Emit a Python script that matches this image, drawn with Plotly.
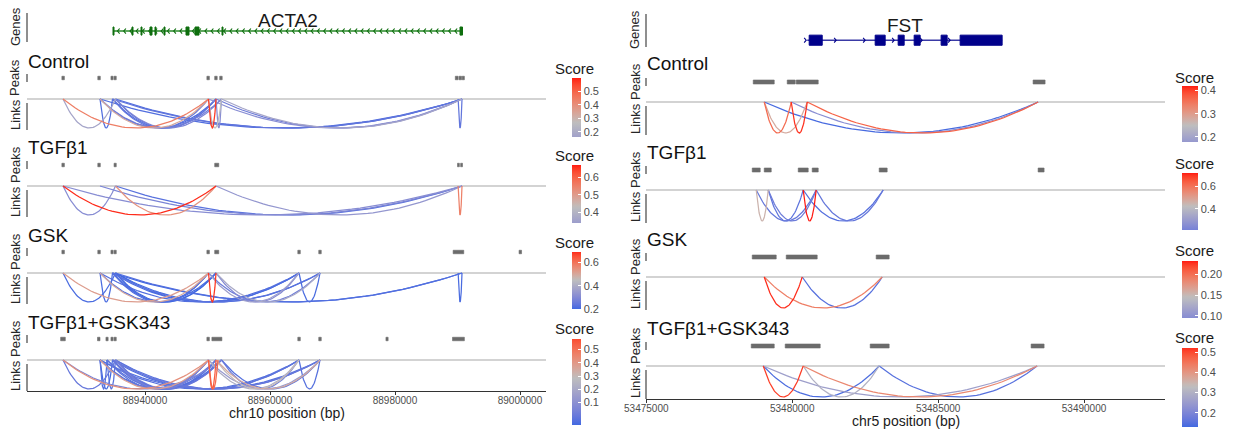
import numpy as np
import plotly.graph_objects as go

W, H = 1240, 444
FONT = "Liberation Sans, Arial, sans-serif"

conditions = ["Control", "TGFβ1", "GSK", "TGFβ1+GSK343"]

# ---------------- LEFT: ACTA2, chr10 ----------------
acta2_gene = [88934880, 88990800]
acta2_exon_start = [88934880, 88937920, 88939360, 88940800, 88941600, 88943040, 88946560, 88948000, 88952320, 88990400]
acta2_exon_end = [88935040, 88938080, 88939520, 88941120, 88941760, 88943200, 88947040, 88948640, 88952480, 88990800]
left_ticks = [88940000, 88960000, 88980000, 89000000]

left_peak_start = [
    [88926700, 88932450, 88934550, 88935050, 88949900, 88951150, 88951950, 88989650, 88990250, 88990750],
    [88926700, 88932450, 88935050, 88951150, 88990000, 88990500],
    [88926700, 88932450, 88934550, 88935050, 88949900, 88951150, 88964450, 88967800, 88989300, 88999850],
    [88926500, 88932400, 88933750, 88934550, 88935050, 88949900, 88950700, 88964450, 88967800, 88978550, 88989200],
]
left_peak_end = [
    [88927100, 88932850, 88934900, 88935400, 88950300, 88951550, 88952350, 88990100, 88990650, 88991100],
    [88927100, 88932850, 88935400, 88951800, 88990300, 88990800],
    [88927100, 88932850, 88934900, 88935400, 88950300, 88951800, 88964850, 88968200, 88991000, 89000250],
    [88927250, 88932800, 88934100, 88934900, 88935400, 88950300, 88952300, 88964850, 88968200, 88978900, 88991100],
]

left_link_start = [
    [88926880, 88926880, 88932800, 88932800, 88932800, 88932800, 88934800, 88934800, 88935280, 88935280,
     88932800, 88934800, 88935280, 88950160, 88950160, 88951360, 88950160, 88951360, 88952240, 88990100],
    [88926880, 88926880, 88935280, 88926880, 88932800, 88935280, 88951360, 88990100],
    [88926880, 88926880, 88932800, 88932800, 88932800, 88934800, 88934800, 88935280, 88935280, 88932800,
     88934800, 88935280, 88935280, 88934800, 88950160, 88950160, 88951360, 88951360, 88950160, 88964640,
     88934800, 88935280, 88990100],
    [88926880, 88926880, 88926880, 88932800, 88933920, 88932800, 88932800, 88932800, 88932800, 88933920,
     88933920, 88934800, 88934800, 88934800, 88935280, 88935280, 88935280, 88932800, 88934800, 88935280,
     88932800, 88934800, 88935280, 88950160, 88950160, 88950160, 88951360, 88951360, 88952240, 88952240,
     88950160, 88964640],
]
left_link_end = [
    [88935280, 88950160, 88934800, 88950160, 88951360, 88952240, 88950160, 88951360, 88951360, 88952240,
     88990720, 88990720, 88990720, 88951360, 88952240, 88952240, 88990720, 88990720, 88990720, 88990720],
    [88935280, 88951360, 88951360, 88990720, 88990720, 88990720, 88990720, 88990720],
    [88935280, 88950160, 88934800, 88950160, 88951360, 88950160, 88951360, 88950160, 88951360, 88964640,
     88964640, 88964640, 88968000, 88968000, 88951360, 88964640, 88964640, 88968000, 88968000, 88968000,
     88990720, 88990720, 88990720],
    [88935280, 88950160, 88952240, 88933920, 88935280, 88934800, 88950160, 88951360, 88952240, 88950160,
     88952240, 88950160, 88951360, 88952240, 88950160, 88951360, 88952240, 88964640, 88964640, 88964640,
     88968000, 88968000, 88968000, 88951360, 88951680, 88964640, 88964640, 88968000, 88964640, 88968000,
     88968000, 88968000],
]
left_link_score = [
    [0.24, 0.44, 0.17, 0.33, 0.17, 0.19, 0.18, 0.17, 0.18, 0.20, 0.17, 0.18, 0.17, 0.57, 0.27, 0.21, 0.21, 0.19, 0.24, 0.18],
    [0.38, 0.66, 0.52, 0.38, 0.37, 0.35, 0.39, 0.55],
    [0.21, 0.52, 0.21, 0.50, 0.21, 0.22, 0.20, 0.21, 0.20, 0.22, 0.21, 0.20, 0.20, 0.23, 0.68, 0.36, 0.30, 0.39, 0.26, 0.21,
     0.20, 0.22, 0.21],
    [0.12, 0.42, 0.15, 0.10, 0.10, 0.08, 0.38, 0.12, 0.09, 0.11, 0.10, 0.12, 0.10, 0.11, 0.14, 0.10, 0.12, 0.10, 0.09, 0.11,
     0.10, 0.12, 0.10, 0.55, 0.52, 0.25, 0.30, 0.35, 0.12, 0.10, 0.20, 0.10],
]
left_cbar_lo = [0.1625, 0.34, 0.2, -0.07]
left_cbar_mid = [0.27, 0.43, 0.45, 0.285]
left_cbar_hi = [0.6, 0.67, 0.69, 0.58]
left_cbar_ticks = [[0.2, 0.3, 0.4, 0.5], [0.4, 0.5, 0.6], [0.2, 0.4, 0.6], [0.1, 0.2, 0.3, 0.4, 0.5]]

# ---------------- RIGHT: FST, chr5 ----------------
fst_gene = [53480514, 53487193]
fst_exon_start = [53480582, 53482843, 53483631, 53484179, 53485103, 53485754]
fst_exon_end = [53481028, 53483185, 53483836, 53484384, 53485309, 53487193]
fst_arrows = [53480480, 53481507, 53482500, 53483494, 53484453, 53485412]
right_ticks = [53475000, 53480000, 53485000, 53490000]

right_peak_start = [
    [53478664, 53479829, 53480137, 53488254],
    [53478630, 53479041, 53480206, 53480685, 53482980, 53488426],
    [53478630, 53479795, 53482877],
    [53478596, 53479760, 53482672, 53488186],
]
right_peak_end = [
    [53479384, 53480103, 53480891, 53488665],
    [53478904, 53479281, 53480548, 53480891, 53483254, 53488631],
    [53479452, 53480856, 53483322],
    [53479384, 53480959, 53483322, 53488631],
]
right_link_start = [
    [53479041, 53479041, 53479966, 53479041, 53479966, 53480514],
    [53478767, 53478767, 53479178, 53479178, 53480377, 53480377, 53480822],
    [53479041, 53479041, 53480343],
    [53479007, 53479007, 53479007, 53480377, 53480377, 53482980],
]
right_link_end = [
    [53479966, 53480514, 53480514, 53488426, 53488426, 53488426],
    [53479178, 53480822, 53480377, 53480822, 53480822, 53483117, 53483117],
    [53480343, 53483083, 53483083],
    [53480377, 53482980, 53488391, 53482980, 53488391, 53488391],
]
right_link_score = [
    [0.36, 0.28, 0.41, 0.18, 0.21, 0.37],
    [0.45, 0.25, 0.24, 0.26, 0.72, 0.23, 0.25],
    [0.228, 0.19, 0.10],
    [0.51, 0.14, 0.26, 0.30, 0.42, 0.15],
]
right_cbar_lo = [0.178, 0.21, 0.095, 0.13]
right_cbar_mid = [0.25, 0.42, 0.145, 0.33]
right_cbar_hi = [0.42, 0.72, 0.232, 0.52]
right_cbar_ticks = [[0.2, 0.3, 0.4], [0.4, 0.6], [0.10, 0.15, 0.20], [0.2, 0.3, 0.4, 0.5]]


# ---------------- colour helpers (Lab interpolation like ggplot) ----------------
def hex2rgb(h):
    h = h.lstrip('#')
    return [int(h[i:i + 2], 16) for i in (0, 2, 4)]


def rgb2lab(rgb):
    def lin(c):
        c = c / 255
        return c / 12.92 if c <= 0.04045 else ((c + 0.055) / 1.055) ** 2.4
    r, g, b = [lin(c) for c in rgb]
    X = 0.4124 * r + 0.3576 * g + 0.1805 * b
    Y = 0.2126 * r + 0.7152 * g + 0.0722 * b
    Z = 0.0193 * r + 0.1192 * g + 0.9505 * b

    def f(t):
        return t ** (1 / 3) if t > 0.008856 else 7.787 * t + 16 / 116
    fx, fy, fz = f(X / 0.95047), f(Y), f(Z / 1.08883)
    return [116 * fy - 16, 500 * (fx - fy), 200 * (fy - fz)]


def lab2hex(lab):
    L, a, b = lab
    fy = (L + 16) / 116
    fx = fy + a / 500
    fz = fy - b / 200

    def finv(t):
        return t ** 3 if t ** 3 > 0.008856 else (t - 16 / 116) / 7.787
    X, Y, Z = 0.95047 * finv(fx), finv(fy), 1.08883 * finv(fz)
    r = 3.2406 * X - 1.5372 * Y - 0.4986 * Z
    g = -0.9689 * X + 1.8758 * Y + 0.0415 * Z
    bb = 0.0557 * X - 0.2040 * Y + 1.0570 * Z

    def gam(c):
        c = 12.92 * c if c <= 0.0031308 else 1.055 * c ** (1 / 2.4) - 0.055
        return max(0, min(255, int(round(c * 255))))
    return '#%02x%02x%02x' % (gam(r), gam(g), gam(bb))


LOW = rgb2lab(hex2rgb('#4169E1'))
MID = rgb2lab(hex2rgb('#BEBEBE'))
HIGH = rgb2lab(hex2rgb('#FF1A12'))


def grad(t):
    t = min(1.0, max(0.0, t))
    if t >= 0.5:
        f, a, b = (t - 0.5) * 2, MID, HIGH
    else:
        f, a, b = (0.5 - t) * 2, MID, LOW
    return lab2hex([a[i] + (b[i] - a[i]) * f for i in range(3)])


def cbar_scale(lo, mid, hi):
    span = max(hi - mid, mid - lo)
    stops = []
    for p in np.linspace(0, 1, 25):
        v = lo + p * (hi - lo)
        stops.append([float(p), grad(0.5 + (v - mid) / (2 * span))])
    return stops


def line_color(v, lo, mid, hi):
    if v >= mid:
        span = max(hi - mid, mid - lo)
        return grad(0.5 + (v - mid) / (2 * span))
    return grad(0.5 - (mid - v) / (2 * (mid - max(lo, 0.08))))


# ---------------- figure construction ----------------
fig = go.Figure()
axes = {}
shapes = []
annotations = []
counter = [0]
AXCOL = '#333333'
LABCOL = '#262626'


def new_axes(xdom, ydom, xr, yr):
    counter[0] += 1
    n = counter[0]
    key = '' if n == 1 else str(n)
    axes['xaxis' + key] = dict(domain=[xdom[0] / W, xdom[1] / W], range=xr, visible=False,
                               anchor='y' + key, fixedrange=True, automargin=False)
    axes['yaxis' + key] = dict(domain=[1 - ydom[1] / H, 1 - ydom[0] / H], range=yr, visible=False,
                               anchor='x' + key, fixedrange=True, automargin=False)
    return 'x' + key, 'y' + key, 'xaxis' + key


def vline_px(x, y0, y1):
    shapes.append(dict(type='line', xref='paper', yref='paper', x0=x / W, x1=x / W,
                       y0=1 - y0 / H, y1=1 - y1 / H, line=dict(color=AXCOL, width=1.1)))


def side_label(text, x, y):
    annotations.append(dict(text=text, x=x / W, y=1 - y / H, xref='paper', yref='paper', showarrow=False,
                            textangle=-90, xanchor='center', yanchor='middle',
                            font=dict(family=FONT, size=13, color=LABCOL)))


def rects(starts, ends, h):
    xs, ys = [], []
    for s, e in zip(starts, ends):
        xs += [s, e, e, s, s, None]
        ys += [-h, -h, h, h, -h, None]
    return xs, ys


def build_side(cfg):
    x0, x1, xr = cfg['x0'], cfg['x1'], cfg['xr']
    # ---- gene track ----
    gd = cfg['gene_dom']
    xa, ya, _ = new_axes((x0, x1), gd, xr, cfg['gene_yr'])
    vline_px(x0, gd[0] + 1, gd[1])
    side_label('Genes', cfg['label_x'], (gd[0] + gd[1]) / 2)
    fig.add_trace(go.Scatter(x=cfg['gene'], y=[0, 0], mode='lines', xaxis=xa, yaxis=ya,
                             line=dict(color=cfg['intron_col'], width=1.4), hoverinfo='skip'))
    ex, ey = rects(cfg['ex_s'], cfg['ex_e'], cfg['exon_h'])
    fig.add_trace(go.Scatter(x=ex, y=ey, mode='lines', fill='toself', fillcolor=cfg['exon_col'],
                             line=dict(color=cfg['exon_col'], width=1), xaxis=xa, yaxis=ya, hoverinfo='skip'))
    cx, cy = [], []
    dx, ch, sgn = cfg['chev_dx'], cfg['chev_h'], cfg['strand']
    for a in cfg['arrows']:
        cx += [a - sgn * dx, a, a - sgn * dx, None]
        cy += [ch, 0, -ch, None]
    fig.add_trace(go.Scatter(x=cx, y=cy, mode='lines', line=dict(color=cfg['exon_col'], width=1.1),
                             xaxis=xa, yaxis=ya, hoverinfo='skip'))
    annotations.append(dict(text=cfg['gene_name'], x=(cfg['gene'][0] + cfg['gene'][1]) / 2, xref=xa,
                            y=1 - cfg['gene_label_y'] / H, yref='paper', showarrow=False,
                            xanchor='center', yanchor='middle',
                            font=dict(family=FONT, size=19, color='#1a1a1a')))

    h = cfg['h']
    for i, L in enumerate(cfg['L']):
        # title
        annotations.append(dict(text=conditions[i], x=(x0 - 1) / W, y=1 - (L - cfg['title_off']) / H,
                                xref='paper', yref='paper', showarrow=False, xanchor='left',
                                yanchor='middle', font=dict(family=FONT, size=19, color='#111111')))
        # peaks
        Lp = L - cfg['peak_off']
        xa, ya, _ = new_axes((x0, x1), (Lp - 5, Lp + 5), xr, [-1, 1])
        px_, py_ = rects(cfg['peak_s'][i], cfg['peak_e'][i], cfg['peak_h'])
        fig.add_trace(go.Scatter(x=px_, y=py_, mode='lines', fill='toself', fillcolor='#6B6B6B',
                                 line=dict(color='#6B6B6B', width=0.6), xaxis=xa, yaxis=ya,
                                 hoverinfo='skip'))
        vline_px(x0, Lp - 4, Lp + 4)
        side_label('Peaks', cfg['label_x'], Lp)
        # links
        R = 0.5 * (h + 2) / (h - 1)
        ymax = 0.5 / (h - 1)
        xa, ya, xkey = new_axes((x0, x1), (L - 1, L + h + 1), xr, [ymax - R, ymax])
        shapes.append(dict(type='line', xref=xa + ' domain', yref=ya, x0=0, x1=1, y0=0, y1=0,
                           line=dict(color='#C4C4C4', width=1.4), layer='below'))
        vline_px(x0, L + 4, L + h + 1)
        side_label('Links', cfg['label_x'], L + h / 2 + 1)
        lo, mid, hi = cfg['lo'][i], cfg['mid'][i], cfg['hi'][i]
        order = np.argsort(cfg['ls'][i], kind='stable')
        t = np.linspace(0, 1, 48)
        for k in order:
            s, e, sc = cfg['la'][i][k], cfg['lb'][i][k], cfg['ls'][i][k]
            fig.add_trace(go.Scatter(x=s + (e - s) * t, y=-2 * t * (1 - t), mode='lines',
                                     line=dict(color=line_color(sc, lo, mid, hi), width=1.25),
                                     xaxis=xa, yaxis=ya, hoverinfo='skip'))
        # colour bar carrier
        b0, b1 = cfg['cb_bars'][i]
        ticks = cfg['cb_ticks'][i]
        fmt = '.2f' if cfg['cb_fmt2'][i] else '.1f'
        fig.add_trace(go.Scatter(
            x=[xr[0]], y=[0], mode='markers', xaxis=xa, yaxis=ya, hoverinfo='skip',
            marker=dict(size=1, opacity=0, color=[lo], cmin=lo, cmax=hi,
                        colorscale=cbar_scale(lo, mid, hi), showscale=True,
                        colorbar=dict(x=cfg['cb_x'] / W, xanchor='left', y=1 - b0 / H, yanchor='top',
                                      len=b1 - b0, lenmode='pixels', thickness=cfg['cb_th'],
                                      thicknessmode='pixels', xpad=0, ypad=0, outlinewidth=0,
                                      tickvals=ticks, ticktext=[format(v, fmt) for v in ticks],
                                      ticks='inside', ticklen=3, tickcolor='white', tickwidth=1,
                                      tickfont=dict(family=FONT, size=11, color='#4D4D4D')))))
        annotations.append(dict(text='Score', x=cfg['score_x'] / W, y=1 - cfg['score_y'][i] / H,
                                xref='paper', yref='paper', showarrow=False, xanchor='left',
                                yanchor='middle', font=dict(family=FONT, size=15, color='#1a1a1a')))
        if i == 3:
            axes[xkey].update(dict(visible=True, showline=True, linecolor=AXCOL, linewidth=1.1,
                                   ticks='outside', ticklen=3, tickcolor=AXCOL, tickvals=cfg['ticks'],
                                   tickformat='d', showgrid=False, zeroline=False,
                                   ticklabelstandoff=-3, automargin=False,
                                   tickfont=dict(family=FONT, size=10, color='#4D4D4D')))
            annotations.append(dict(text=cfg['xtitle'], x=(x0 + x1) / 2 / W, y=1 - cfg['xtitle_y'] / H,
                                    xref='paper', yref='paper', showarrow=False, xanchor='center',
                                    yanchor='middle', font=dict(family=FONT, size=14, color='#1a1a1a')))


left_cfg = dict(
    x0=27, x1=546, xr=[88921120, 89004160], L=[99, 186, 273, 360], h=30,
    gene_dom=(12, 42), gene_yr=[-0.73, 1.27], label_x=15, gene_label_y=21,
    gene=acta2_gene, ex_s=acta2_exon_start, ex_e=acta2_exon_end, exon_h=0.27,
    arrows=list(range(88935600, 88990300, 1000)), chev_dx=340, chev_h=0.17, strand=-1,
    exon_col='#0E6E0E', intron_col='#2A8A2A', gene_name='ACTA2',
    title_off=38, peak_off=21, peak_h=0.35,
    peak_s=left_peak_start, peak_e=left_peak_end,
    la=left_link_start, lb=left_link_end, ls=left_link_score,
    lo=left_cbar_lo, mid=left_cbar_mid, hi=left_cbar_hi,
    cb_x=572, cb_th=9, cb_bars=[(78, 137), (165, 223), (252, 309), (339, 425)],
    cb_ticks=left_cbar_ticks, cb_fmt2=[False] * 4,
    score_x=553, score_y=[68, 155, 242, 328],
    ticks=left_ticks, xtitle='chr10 position (bp)', xtitle_y=413,
)
right_cfg = dict(
    x0=646, x1=1165, xr=[53474990, 53492774], L=[102, 190, 277, 366], h=32,
    gene_dom=(13, 47), gene_yr=[-0.35, 1.4], label_x=635, gene_label_y=26,
    gene=fst_gene, ex_s=fst_exon_start, ex_e=fst_exon_end, exon_h=0.26,
    arrows=fst_arrows, chev_dx=70, chev_h=0.12, strand=1,
    exon_col='#00008B', intron_col='#3A3AA6', gene_name='FST',
    title_off=38, peak_off=20, peak_h=0.4,
    peak_s=right_peak_start, peak_e=right_peak_end,
    la=right_link_start, lb=right_link_end, ls=right_link_score,
    lo=right_cbar_lo, mid=right_cbar_mid, hi=right_cbar_hi,
    cb_x=1182, cb_th=16, cb_bars=[(86, 142), (173, 230), (261, 318), (348, 427)],
    cb_ticks=right_cbar_ticks, cb_fmt2=[False, False, True, False],
    score_x=1173, score_y=[77, 163, 250, 337],
    ticks=right_ticks, xtitle='chr5 position (bp)', xtitle_y=421,
)

build_side(left_cfg)
build_side(right_cfg)

fig.update_layout(
    width=W, height=H, margin=dict(l=0, r=0, t=0, b=0, autoexpand=False),
    paper_bgcolor='white', plot_bgcolor='rgba(0,0,0,0)',
    showlegend=False, hovermode=False,
    shapes=shapes, annotations=annotations,
    font=dict(family=FONT),
    **axes,
)
fig.write_html("out.html")
